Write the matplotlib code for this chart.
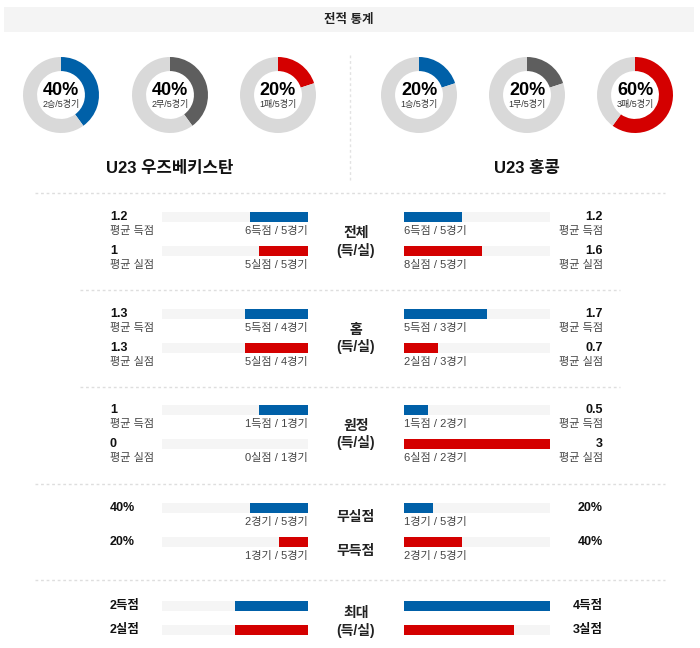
import matplotlib
matplotlib.use("Agg")
from matplotlib import pyplot as plt
from matplotlib.patches import Rectangle

plt.rcParams["font.family"] = ["Liberation Sans", "Noto Sans CJK KR", "DejaVu Sans"]

# ---------------- data ----------------
teams = ["U23 우즈베키스탄", "U23 홍콩"]
donut_left = [40, 40, 20]
donut_left_sub = ["2승/5경기", "2무/5경기", "1패/5경기"]
donut_right = [20, 20, 60]
donut_right_sub = ["1승/5경기", "1무/5경기", "3패/5경기"]

avg_titles = ["전체", "홈", "원정"]
left_for = [1.2, 1.3, 1]
left_for_txt = ["6득점 / 5경기", "5득점 / 4경기", "1득점 / 1경기"]
left_against = [1, 1.3, 0]
left_against_txt = ["5실점 / 5경기", "5실점 / 4경기", "0실점 / 1경기"]
right_for = [1.2, 1.7, 0.5]
right_for_txt = ["6득점 / 5경기", "5득점 / 3경기", "1득점 / 2경기"]
right_against = [1.6, 0.7, 3]
right_against_txt = ["8실점 / 5경기", "2실점 / 3경기", "6실점 / 2경기"]
avg_max = 3

cs_titles = ["무실점", "무득점"]
left_cs = [40, 20]
left_cs_txt = ["2경기 / 5경기", "1경기 / 5경기"]
right_cs = [20, 40]
right_cs_txt = ["1경기 / 5경기", "2경기 / 5경기"]

left_max = [2, 2]
right_max = [4, 3]
max_units = ["득점", "실점"]
max_scale = 4

# ---------------- style ----------------
BLUE = "#0060a8"
GRAY = "#5e5e5e"
RED = "#d40000"
RING = "#d9d9d9"
TRACK = "#f5f5f5"
donut_colors = [BLUE, GRAY, RED]
bar_colors = [BLUE, RED]

W, H = 700, 648
fig = plt.figure(figsize=(7, 6.48), dpi=100)
ax = fig.add_axes([0, 0, 1, 1])
ax.set_xlim(0, W)
ax.set_ylim(H, 0)
ax.axis("off")

# header
ax.add_patch(Rectangle((4, 7), 690, 25, color="#f4f4f4", lw=0))
ax.text(349, 19.5, "전적 통계", ha="center", va="center", fontsize=9,
        fontweight="bold", color="#222222")

# donuts
R = 38
def donut(cx, cy, pct, sub, color):
    dax = fig.add_axes([(cx - R) / W, 1 - (cy + R) / H, 2 * R / W, 2 * R / H])
    dax.pie([pct, 100 - pct], colors=[color, RING], startangle=90,
            counterclock=False, radius=1, wedgeprops=dict(width=0.37, lw=0))
    dax.set_xlim(-1, 1)
    dax.set_ylim(-1, 1)
    dax.axis("off")
    dax.text(0, -0.1, f"{pct}%", ha="center", va="bottom", fontsize=13,
             fontweight="bold", color="#000000")
    dax.text(0, -0.12, sub, ha="center", va="top", fontsize=6.5,
             color="#333333")

for i, cx in enumerate([61, 170, 278]):
    donut(cx, 95, donut_left[i], donut_left_sub[i], donut_colors[i])
for i, cx in enumerate([419, 527, 635]):
    donut(cx, 95, donut_right[i], donut_right_sub[i], donut_colors[i])

ax.text(170, 168, teams[0], ha="center", va="center", fontsize=12,
        fontweight="bold", color="#111111")
ax.text(527, 168, teams[1], ha="center", va="center", fontsize=12,
        fontweight="bold", color="#111111")
ax.plot([350, 350], [55, 182], color="#e2e2e2", lw=1, ls=(0, (2, 2)))

# separators
for y, x0, x1 in [(193, 35, 665), (290, 80, 620), (387, 80, 620),
                  (484, 35, 665), (580, 35, 665)]:
    ax.plot([x0, x1], [y, y], color="#dedede", lw=1, ls=(0, (2, 2)))

# bars
TL0, TL1 = 162, 308   # left track
TR0, TR1 = 404, 550   # right track
TW = TL1 - TL0
BH = 9.5
LX, RX, CX = 110, 603, 356

def left_bar(y, val, scale, color):
    ax.barh(y, TW, left=TL0, height=BH, color=TRACK, lw=0)
    w = val / scale * TW
    ax.barh(y, w, left=TL1 - w, height=BH, color=color, lw=0)

def right_bar(y, val, scale, color):
    ax.barh(y, TW, left=TR0, height=BH, color=TRACK, lw=0)
    ax.barh(y, val / scale * TW, left=TR0, height=BH, color=color, lw=0)

def sub_text(x, y, s, ha):
    ax.text(x, y, s, ha=ha, va="center", fontsize=8, color="#444444")

def val_text(x, y, s, ha):
    ax.text(x, y, s, ha=ha, va="center", fontsize=9, fontweight="bold",
            color="#111111")

avg_y = [217, 314, 410]
for i, y0 in enumerate(avg_y):
    rows = [(left_for[i], left_for_txt[i], right_for[i], right_for_txt[i], "평균 득점"),
            (left_against[i], left_against_txt[i], right_against[i],
             right_against_txt[i], "평균 실점")]
    for j, (lv, lt, rv, rt, lab) in enumerate(rows):
        y = y0 + 34 * j
        left_bar(y, lv, avg_max, bar_colors[j])
        right_bar(y, rv, avg_max, bar_colors[j])
        val_text(LX, y, f"{lv:g}", "left")
        sub_text(LX, y + 14, lab, "left")
        val_text(RX, y, f"{rv:g}", "right")
        sub_text(RX, y + 14, lab, "right")
        sub_text(TL1, y + 14, lt, "right")
        sub_text(TR0, y + 14, rt, "left")
    ax.text(CX, y0 + 16, avg_titles[i], ha="center", va="center", fontsize=10,
            fontweight="bold", color="#222222")
    ax.text(CX, y0 + 33, "(득/실)", ha="center", va="center", fontsize=10,
            fontweight="bold", color="#222222")

for j, y in enumerate([508, 542]):
    left_bar(y, left_cs[j], 100, bar_colors[j])
    right_bar(y, right_cs[j], 100, bar_colors[j])
    val_text(LX, y, f"{left_cs[j]}%", "left")
    val_text(RX, y, f"{right_cs[j]}%", "right")
    sub_text(TL1, y + 14, left_cs_txt[j], "right")
    sub_text(TR0, y + 14, right_cs_txt[j], "left")
    ax.text(CX, y + 9, cs_titles[j], ha="center", va="center", fontsize=10,
            fontweight="bold", color="#222222")

for j, y in enumerate([606, 630]):
    left_bar(y, left_max[j], max_scale, bar_colors[j])
    right_bar(y, right_max[j], max_scale, bar_colors[j])
    val_text(LX, y, f"{left_max[j]}{max_units[j]}", "left")
    val_text(RX, y, f"{right_max[j]}{max_units[j]}", "right")
ax.text(CX, 613, "최대", ha="center", va="center", fontsize=10,
        fontweight="bold", color="#222222")
ax.text(CX, 630, "(득/실)", ha="center", va="center", fontsize=10,
        fontweight="bold", color="#222222")

fig.savefig("out.png", dpi=100)
